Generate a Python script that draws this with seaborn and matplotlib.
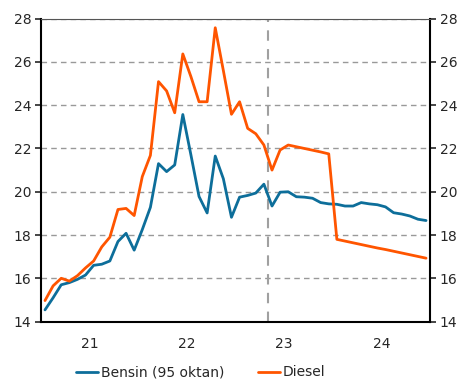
import numpy as np
import pandas as pd
import seaborn as sns
import matplotlib.pyplot as plt

# monthly prices, Jan 2021 - Dec 2024 (kr per liter)
bensin = [14.54, 15.1, 15.7, 15.8, 15.95, 16.15, 16.6, 16.65, 16.8, 17.7, 18.08, 17.3,
          18.25, 19.28, 21.3, 20.93, 21.24, 23.57, 21.7, 19.78, 19.02, 21.65, 20.6, 18.82,
          19.75, 19.83, 19.94, 20.35, 19.34, 19.98, 20.0, 19.77, 19.75, 19.7, 19.5, 19.44,
          19.42, 19.34, 19.34, 19.5, 19.44, 19.4, 19.3, 19.03, 18.97, 18.88, 18.73, 18.67]
diesel = [14.97, 15.65, 16.0, 15.87, 16.12, 16.48, 16.8, 17.45, 17.9, 19.18, 19.23, 18.9,
          20.7, 21.68, 25.09, 24.66, 23.65, 26.37, 25.32, 24.16, 24.16, 27.58, 25.6, 23.58,
          24.16, 22.93, 22.68, 22.16, 21.0, 21.93, 22.16, 22.08, 22.0, 21.92, 21.84, 21.75,
          17.8, 17.72, 17.64, 17.56, 17.48, 17.4, 17.33, 17.25, 17.17, 17.09, 17.01, 16.93]
year_labels = ["21", "22", "23", "24"]
forecast_start = 28.0  # months after Jan 2021

months = np.arange(len(bensin)) + 0.5
df = pd.DataFrame({
    "month": np.concatenate([months, months]),
    "pris": bensin + diesel,
    "serie": ["Bensin (95 oktan)"] * len(bensin) + ["Diesel"] * len(diesel),
})

sns.set_style("white")
plt.rcParams["font.family"] = ["DejaVu Sans"]

fig = plt.figure(figsize=(4.6, 3.81), dpi=100)
ax = fig.add_axes([0.089, 0.156, 0.846, 0.795])

for y in range(16, 29, 2):
    ax.axhline(y, color="#999999", lw=1, dashes=(4, 3), zorder=0)
ax.axvline(forecast_start, color="#a0a0a0", lw=1.5, dashes=(5, 4), zorder=0)

sns.lineplot(data=df, x="month", y="pris", hue="serie",
             palette=["#0d6e9a", "#ff5500"], linewidth=2, ax=ax)

ax.set_xlim(0, 48)
ax.set_ylim(14, 28)
ax.set_xlabel("")
ax.set_ylabel("")
ax.set_yticks(range(14, 29, 2))
ax.set_xticks([0, 12, 24, 36, 48])
ax.set_xticklabels([])
ax.set_xticks([6, 18, 30, 42], minor=True)
ax.set_xticklabels(year_labels, minor=True)
ax.tick_params(axis="x", which="major", direction="inout", length=7, width=1.2, colors="black")
ax.tick_params(axis="x", which="minor", length=0, pad=11, labelsize=10)
ax.tick_params(axis="y", direction="out", length=4, width=1.2, labelsize=10, pad=3,
               left=True, right=True, labelleft=True, labelright=True)

for side in ["left", "right", "bottom"]:
    ax.spines[side].set_color("black")
    ax.spines[side].set_linewidth(1.5)
ax.spines["top"].set_color("#555555")
ax.spines["top"].set_linewidth(0.8)

handles, labels = ax.get_legend_handles_labels()
ax.legend(handles, labels, loc="center", bbox_to_anchor=(0.41, -0.168), ncol=2,
          frameon=False, fontsize=10, handlelength=1.6, handletextpad=0.2,
          columnspacing=2.4, borderpad=0)

fig.savefig("out.png", dpi=100)
